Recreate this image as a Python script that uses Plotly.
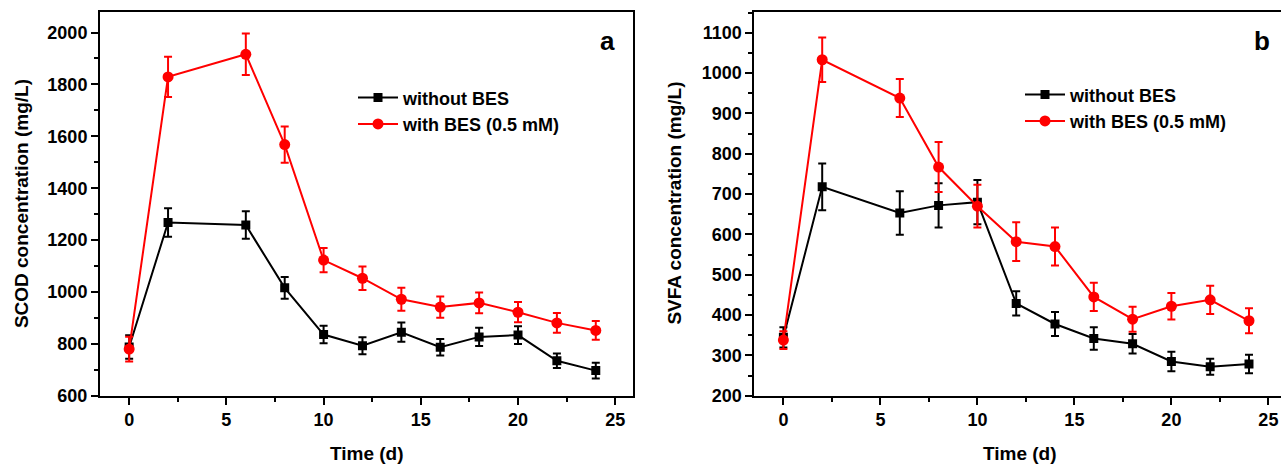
import plotly.graph_objects as go

# ---------------- data ----------------
time_d = [0, 2, 6, 8, 10, 12, 14, 16, 18, 20, 22, 24]

scod_without = [788, 1268, 1258, 1016, 836, 793, 845, 787, 827, 834, 735, 697]
scod_without_err = [45, 55, 53, 42, 34, 33, 37, 32, 35, 34, 28, 30]
scod_with = [780, 1829, 1916, 1568, 1123, 1053, 972, 942, 958, 922, 881, 852]
scod_with_err = [48, 78, 80, 70, 47, 45, 44, 41, 40, 39, 38, 36]

svfa_without = [345, 718, 653, 672, 680, 429, 378, 342, 329, 285, 272, 279]
svfa_without_err = [25, 58, 54, 55, 55, 30, 30, 28, 24, 24, 20, 23]
svfa_with = [338, 1033, 938, 767, 670, 582, 570, 445, 390, 422, 438, 386]
svfa_with_err = [22, 55, 47, 62, 53, 48, 47, 35, 31, 33, 35, 31]

series_names = ["without BES", "with BES (0.5 mM)"]
x_ticks = [0, 5, 10, 15, 20, 25]
scod_ticks = [600, 800, 1000, 1200, 1400, 1600, 1800, 2000]
svfa_ticks = [200, 300, 400, 500, 600, 700, 800, 900, 1000, 1100]

# ---------------- style ----------------
W, H = 1281, 475
FONT = "Liberation Sans, Arial, sans-serif"
BLACK = "#000000"
RED = "#ff0000"

def px_x(p):
    return p / W

def px_y(p):
    return 1 - p / H

fig = go.Figure()

def add_series(x, y, err, color, symbol, size, name, xa, ya, legend):
    fig.add_trace(go.Scatter(
        x=x, y=y, name=name, mode="lines+markers",
        line=dict(color=color, width=2),
        marker=dict(color=color, symbol=symbol, size=size),
        error_y=dict(type="data", array=err, visible=True, color=color,
                     thickness=2, width=4),
        xaxis=xa, yaxis=ya, legend=legend,
    ))

add_series(time_d, scod_without, scod_without_err, BLACK, "square", 9, series_names[0], "x", "y", "legend")
add_series(time_d, scod_with, scod_with_err, RED, "circle", 11, series_names[1], "x", "y", "legend")
add_series(time_d, svfa_without, svfa_without_err, BLACK, "square", 9, series_names[0], "x2", "y2", "legend2")
add_series(time_d, svfa_with, svfa_with_err, RED, "circle", 11, series_names[1], "x2", "y2", "legend2")

tickfont = dict(family=FONT, size=18, color=BLACK, weight="bold")

common_x = dict(
    showline=True, linecolor=BLACK, linewidth=2, mirror=True,
    ticks="outside", ticklen=7, tickwidth=2, tickcolor=BLACK,
    tickvals=x_ticks, tickfont=tickfont, showgrid=False, zeroline=False,
    minor=dict(ticks="outside", ticklen=4, tickwidth=2, tickcolor=BLACK, dtick=2.5, tick0=0),
)
common_y = dict(
    showline=True, linecolor=BLACK, linewidth=2,
    ticks="outside", ticklen=7, tickwidth=2, tickcolor=BLACK,
    tickfont=tickfont, showgrid=False, zeroline=False,
)

plot_top = px_y(12)
plot_bot = px_y(404.3)

fig.update_layout(
    width=W, height=H,
    margin=dict(l=0, r=0, t=0, b=0),
    paper_bgcolor="white", plot_bgcolor="white",
    font=dict(family=FONT, color=BLACK),
    xaxis=dict(domain=[px_x(100), px_x(633.3)], range=[-1.5, 25.93], anchor="y", **common_x),
    yaxis=dict(domain=[plot_bot, plot_top], range=[600, 2080], anchor="x",
               tickvals=scod_ticks, mirror=True,
               minor=dict(ticks="outside", ticklen=4, tickwidth=2, tickcolor=BLACK, dtick=100, tick0=0),
               **common_y),
    xaxis2=dict(domain=[px_x(754.3), 1.0], range=[-1.5, 25.65], anchor="y2", **common_x),
    yaxis2=dict(domain=[plot_bot, plot_top], range=[200, 1152], anchor="x2",
                tickvals=svfa_ticks, mirror=False,
                minor=dict(ticks="outside", ticklen=4, tickwidth=2, tickcolor=BLACK, dtick=50, tick0=0),
                **common_y),
    legend=dict(x=px_x(353), y=px_y(81), xanchor="left", yanchor="top",
                bgcolor="rgba(0,0,0,0)", borderwidth=0,
                font=dict(family=FONT, size=18, color=BLACK, weight="bold"),
                tracegroupgap=0, itemwidth=40),
    legend2=dict(x=px_x(1020), y=px_y(78), xanchor="left", yanchor="top",
                 bgcolor="rgba(0,0,0,0)", borderwidth=0,
                 font=dict(family=FONT, size=18, color=BLACK, weight="bold"),
                 tracegroupgap=0, itemwidth=40),
    showlegend=True,
)

titlefont = dict(family=FONT, size=19, color=BLACK, weight="bold")
ann = [
    dict(text="Time (d)", x=px_x(366.5), y=px_y(463), xref="paper", yref="paper",
         showarrow=False, font=titlefont, xanchor="center", yanchor="middle"),
    dict(text="Time (d)", x=px_x(1020), y=px_y(463), xref="paper", yref="paper",
         showarrow=False, font=titlefont, xanchor="center", yanchor="middle"),
    dict(text="SCOD concentration (mg/L)", x=px_x(21.5), y=px_y(208), xref="paper", yref="paper",
         showarrow=False, font=titlefont, textangle=-90, xanchor="center", yanchor="middle"),
    dict(text="SVFA concentration (mg/L)", x=px_x(675), y=px_y(208), xref="paper", yref="paper",
         showarrow=False, font=titlefont, textangle=-90, xanchor="center", yanchor="middle"),
    dict(text="a", x=px_x(617), y=px_y(42), xref="paper", yref="paper",
         showarrow=False, font=dict(family=FONT, size=26, color=BLACK, weight="bold"),
         xanchor="right", yanchor="middle"),
    dict(text="b", x=px_x(1272), y=px_y(42), xref="paper", yref="paper",
         showarrow=False, font=dict(family=FONT, size=26, color=BLACK, weight="bold"),
         xanchor="right", yanchor="middle"),
]
fig.update_layout(annotations=ann)

post = (
    "var s=document.createElement('style');"
    "s.textContent='html,body{margin:0;padding:0;overflow:hidden;}';"
    "document.head.appendChild(s);"
)

fig.write_html("out.html", config={"displayModeBar": False}, post_script=post)
